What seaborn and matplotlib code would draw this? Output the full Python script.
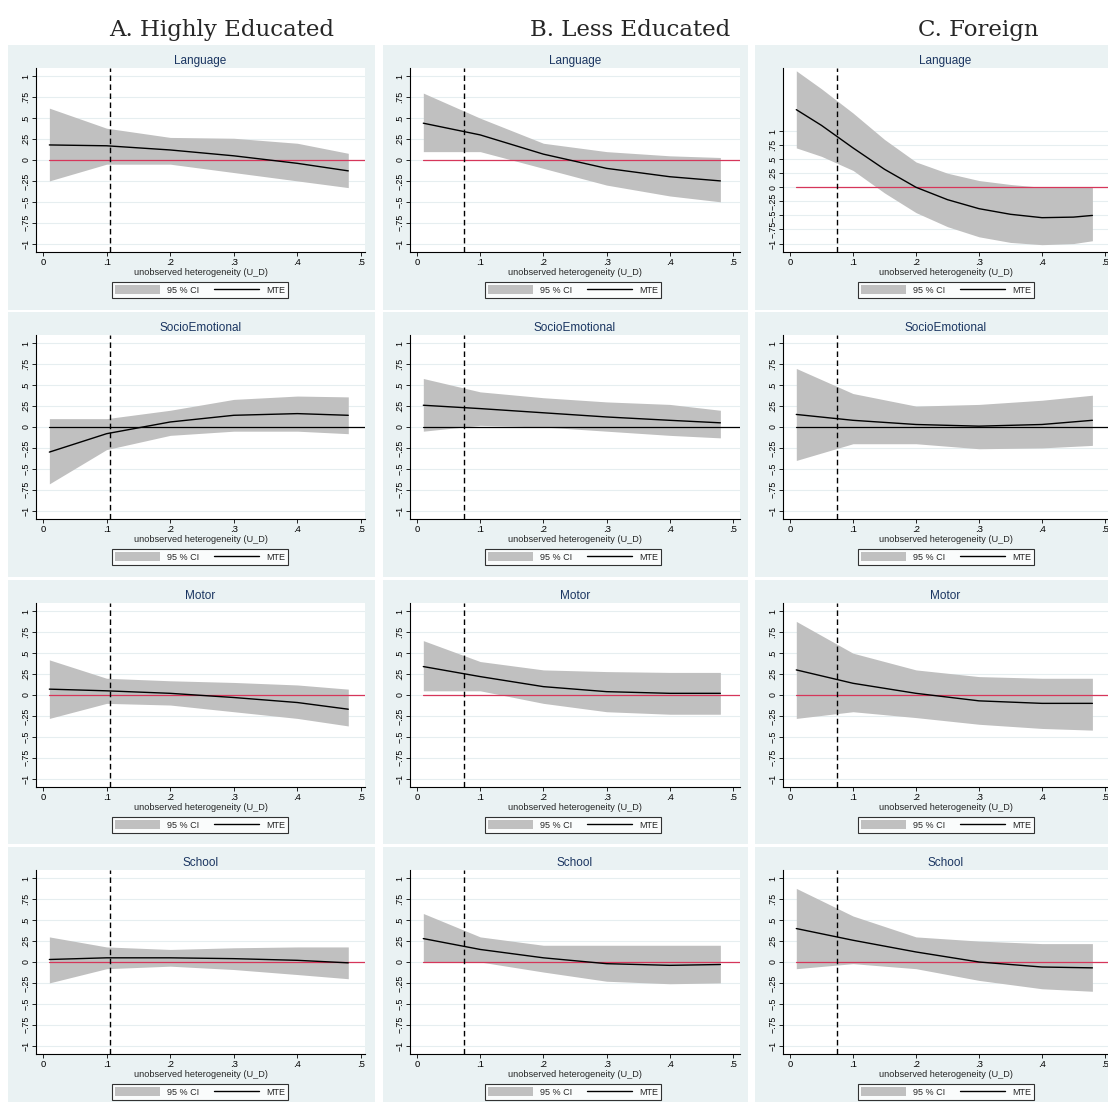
import matplotlib
matplotlib.use("Agg")
import matplotlib.pyplot as plt
import seaborn as sns
import pandas as pd
from matplotlib.patches import Rectangle, Patch
from matplotlib.lines import Line2D

sns.set_theme(style="white")
plt.rcParams['font.family'] = ['Liberation Sans', 'DejaVu Sans']

col_titles = ["A. Highly Educated", "B. Less Educated", "C. Foreign"]
row_titles = ["Language", "SocioEmotional", "Motor", "School"]
cutoffs = [0.105, 0.075, 0.075]
zero_red = [True, False, True, True]

x6 = [0.01, 0.1, 0.2, 0.3, 0.4, 0.48]
x11 = [0.01, 0.05, 0.1, 0.15, 0.2, 0.25, 0.3, 0.35, 0.4, 0.45, 0.48]

# (x, mte, lower, upper) per [row][col]
A_lang = (x6, [0.18, 0.17, 0.12, 0.05, -0.04, -0.13], [-0.25, -0.05, -0.05, -0.15, -0.25, -0.33], [0.62, 0.38, 0.27, 0.26, 0.20, 0.08])
B_lang = (x6, [0.44, 0.30, 0.07, -0.10, -0.20, -0.25], [0.10, 0.10, -0.10, -0.30, -0.43, -0.50], [0.80, 0.50, 0.20, 0.10, 0.05, 0.03])
C_lang = (x11, [1.38, 1.10, 0.70, 0.32, 0.00, -0.22, -0.38, -0.48, -0.54, -0.53, -0.50],
          [0.70, 0.55, 0.30, -0.10, -0.45, -0.70, -0.88, -0.98, -1.02, -1.00, -0.95],
          [2.07, 1.75, 1.32, 0.85, 0.45, 0.25, 0.12, 0.05, 0.00, 0.00, 0.00])
A_socio = (x6, [-0.30, -0.08, 0.06, 0.14, 0.16, 0.14], [-0.68, -0.27, -0.10, -0.05, -0.05, -0.08], [0.10, 0.10, 0.20, 0.33, 0.37, 0.36])
B_socio = (x6, [0.26, 0.22, 0.17, 0.12, 0.08, 0.05], [-0.05, 0.02, 0.00, -0.05, -0.10, -0.13], [0.58, 0.42, 0.35, 0.30, 0.27, 0.20])
C_socio = (x6, [0.15, 0.08, 0.03, 0.01, 0.03, 0.08], [-0.40, -0.20, -0.20, -0.26, -0.25, -0.22], [0.70, 0.40, 0.25, 0.27, 0.32, 0.38])
A_motor = (x6, [0.07, 0.05, 0.02, -0.03, -0.09, -0.17], [-0.28, -0.10, -0.12, -0.20, -0.28, -0.37], [0.42, 0.20, 0.17, 0.15, 0.12, 0.07])
B_motor = (x6, [0.34, 0.22, 0.10, 0.04, 0.02, 0.02], [0.05, 0.05, -0.10, -0.20, -0.23, -0.23], [0.65, 0.40, 0.30, 0.28, 0.27, 0.27])
C_motor = (x6, [0.30, 0.14, 0.02, -0.07, -0.10, -0.10], [-0.28, -0.20, -0.27, -0.35, -0.40, -0.42], [0.88, 0.50, 0.30, 0.22, 0.20, 0.20])
A_school = (x6, [0.03, 0.05, 0.05, 0.04, 0.02, -0.01], [-0.25, -0.08, -0.05, -0.09, -0.15, -0.20], [0.30, 0.18, 0.15, 0.17, 0.18, 0.18])
B_school = (x6, [0.28, 0.15, 0.05, -0.02, -0.04, -0.03], [0.00, 0.00, -0.12, -0.23, -0.26, -0.25], [0.58, 0.30, 0.20, 0.20, 0.20, 0.20])
C_school = (x6, [0.40, 0.26, 0.12, 0.00, -0.06, -0.07], [-0.08, -0.02, -0.08, -0.22, -0.32, -0.35], [0.88, 0.55, 0.30, 0.25, 0.22, 0.22])

data = [[A_lang, B_lang, C_lang], [A_socio, B_socio, C_socio],
        [A_motor, B_motor, C_motor], [A_school, B_school, C_school]]

yticks = [-1, -0.75, -0.5, -0.25, 0, 0.25, 0.5, 0.75, 1]
yticklabels = ["\u22121", "\u2212.75", "\u2212.5", "\u2212.25", "0", ".25", ".5", ".75", "1"]
xticks = [0, 0.1, 0.2, 0.3, 0.4, 0.5]
xticklabels = ["0", ".1", ".2", ".3", ".4", ".5"]

W, H = 1108, 1104
fig = plt.figure(figsize=(W / 100, H / 100), dpi=100)

panel_x = [(8, 375), (383, 748), (755, 1108)]
panel_y = [(45, 310), (312, 577), (580, 844), (847, 1102)]
px_axes = [(36, 43, 361, 365), (410, 417, 733, 740), (783, 790, 1105, 1108)]
leg_centers = [200, 573, 946]
col_title_x = [222, 630, 978]
bg = "#eaf2f3"

for c, t in enumerate(col_titles):
    fig.text(col_title_x[c] / W, 1 - 30 / H, t, ha="center", va="center", fontsize=16.5, family="DejaVu Serif")

for r in range(4):
    for c in range(3):
        x0, x1 = panel_x[c]
        y0, y1 = panel_y[r]
        fig.patches.append(Rectangle((x0 / W, 1 - y1 / H), (x1 - x0) / W, (y1 - y0) / H,
                                     transform=fig.transFigure, facecolor=bg, edgecolor="none", zorder=-10))
        lpx, zpx, fpx, rpx = px_axes[c]
        scale = (fpx - zpx) / 0.5
        xl = (lpx - zpx) / scale
        xr = (rpx - zpx) / scale
        top = y0 + 23
        bot = y0 + 207
        ax = fig.add_axes([lpx / W, 1 - bot / H, (rpx - lpx) / W, (bot - top) / H])
        ax.set_facecolor("white")
        xs, mte, lo, hi = data[r][c]
        df = pd.DataFrame({"u": xs, "mte": mte, "lo": lo, "hi": hi})
        ax.fill_between(df["u"], df["lo"], df["hi"], color="#c0c0c0", lw=0, zorder=2)
        sns.lineplot(data=df, x="u", y="mte", ax=ax, color="black", lw=1.0, zorder=4)
        for yt in yticks:
            ax.axhline(yt, color="#e6eef0", lw=0.8, zorder=1)
        ax.plot([0.01, xr], [0, 0], color="#d6365a" if zero_red[r] else "black", lw=0.9, zorder=3)
        ax.axvline(cutoffs[c], color="black", ls=(0, (4, 2.5)), lw=1.0, zorder=5)
        ax.set_xlim(xl, xr)
        if r == 0 and c == 2:
            ax.set_ylim(-1.15, 2.12)
        else:
            ax.set_ylim(-1.1, 1.1)
        ax.set_yticks(yticks)
        ax.set_yticklabels(yticklabels, rotation=90, va="center", fontsize=6.3)
        ax.set_xticks(xticks)
        ax.set_xticklabels(xticklabels, fontsize=6.8)
        ax.tick_params(axis="both", length=3, width=0.6, pad=1, left=True, bottom=True, colors="black")
        for s in ["top", "right"]:
            ax.spines[s].set_visible(False)
        for s in ["left", "bottom"]:
            ax.spines[s].set_color("black")
            ax.spines[s].set_linewidth(0.8)
        ax.set_xlabel("unobserved heterogeneity (U_D)", fontsize=6.6, labelpad=1)
        ax.set_ylabel("")
        ax.set_title(row_titles[r], fontsize=8.5, color="#1a3561", pad=3)
        handles = [Patch(facecolor="#c0c0c0", edgecolor="none", label="95 % CI"),
                   Line2D([0], [0], color="black", lw=1, label="MTE")]
        legx = (leg_centers[c] - lpx) / (rpx - lpx)
        legy = -(y0 + 245 - bot) / (bot - top)
        leg = ax.legend(handles=handles, loc="center", bbox_to_anchor=(legx, legy), ncol=2,
                        fontsize=6.5, frameon=True, fancybox=False, handlelength=5.0, handleheight=1.2,
                        columnspacing=1.6, borderpad=0.35, handletextpad=0.8)
        leg.get_frame().set_edgecolor("black")
        leg.get_frame().set_linewidth(0.8)

fig.savefig("out.png", dpi=100, facecolor="white")
